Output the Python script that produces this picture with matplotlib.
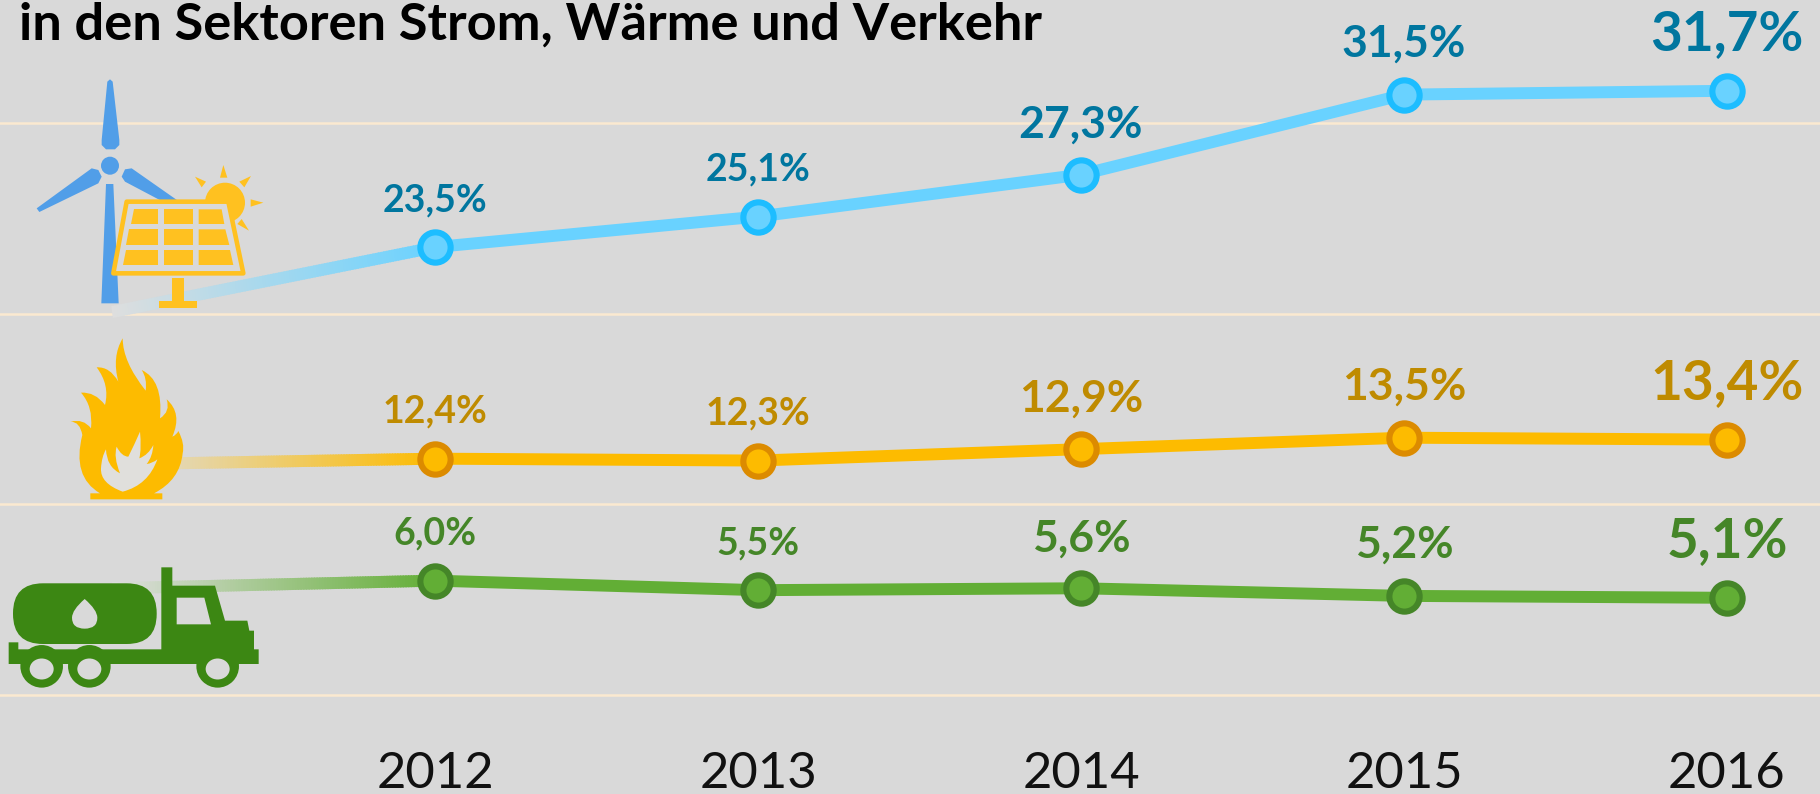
import matplotlib
matplotlib.use("Agg")
import matplotlib.pyplot as plt
from matplotlib.colors import to_rgb
import numpy as np
from matplotlib.patches import Circle, Ellipse, FancyBboxPatch, PathPatch, Polygon, Rectangle
from matplotlib.path import Path

W, H = 1820, 794
BG = "#d9d9d9"
GRID = "#fbe9d0"

# data
years = [2012, 2013, 2014, 2015, 2016]
strom = [23.5, 25.1, 27.3, 31.5, 31.7]
waerme = [12.4, 12.3, 12.9, 13.5, 13.4]
verkehr = [6.0, 5.5, 5.6, 5.2, 5.1]
strom_labels = ["23,5%", "25,1%", "27,3%", "31,5%", "31,7%"]
waerme_labels = ["12,4%", "12,3%", "12,9%", "13,5%", "13,4%"]
verkehr_labels = ["6,0%", "5,5%", "5,6%", "5,2%", "5,1%"]
start_year = 2011
start_values = [20.1, 12.1, 5.6]
grid_values = [0, 10, 20, 30]
title = "in den Sektoren Strom, Wärme und Verkehr"

label_sizes = [27, 27, 32, 32, 39.5]
label_gaps = [36, 36, 37, 38, 41]

plt.rcParams["font.family"] = ["Lato", "DejaVu Sans"]
fig = plt.figure(figsize=(W / 100, H / 100), dpi=100, facecolor=BG)
ax = fig.add_axes([0, 0, 1, 1], facecolor=BG)
ax.set_xlim(2012 - 435 / 323, 2012 + (W - 435) / 323)
ax.set_ylim((695 - H) / 19.06, 695 / 19.06)
ax.axis("off")

for g in grid_values:
    ax.axhline(g, color=GRID, lw=1.8, zorder=1)


def draw_series(vals, start, line_col, edge_col, text_col, labels):
    ax.plot(years, vals, color=line_col, lw=8.6, zorder=3, solid_capstyle="butt", solid_joinstyle="round")
    # fade from the background colour towards the first point
    c0, c1 = np.array(to_rgb("#dedede")), np.array(to_rgb(line_col))
    steps = np.linspace(0, 1, 121)
    for a, b in zip(steps[:-1], steps[1:]):
        xs = [start_year + a, start_year + b + 0.004]
        ys = [start + (vals[0] - start) * a, start + (vals[0] - start) * b]
        ax.plot(xs, ys, color=c0 + (c1 - c0) * a, lw=8.6, zorder=2, solid_capstyle="butt")
    ax.plot(years, vals, ls="none", marker="o", ms=21.8, mfc=line_col, mec=edge_col, mew=4.4, zorder=4)
    for x, v, lab, fs, gap in zip(years, vals, labels, label_sizes, label_gaps):
        ax.annotate(lab, (x, v), xytext=(0, gap), textcoords="offset pixels", ha="center", va="baseline",
                    color=text_col, fontweight="bold", fontsize=fs, zorder=5)


draw_series(strom, start_values[0], "#69d2ff", "#1dbdff", "#00769f", strom_labels)
draw_series(waerme, start_values[1], "#fdbb00", "#dc8b00", "#bf8b00", waerme_labels)
draw_series(verkehr, start_values[2], "#62ae35", "#458628", "#458628", verkehr_labels)

for y in years:
    ax.annotate(str(y), (y, 0), xytext=(0, -93), textcoords="offset pixels", ha="center", va="baseline",
                color="#111111", fontsize=36.5)

# overlay in pixel coordinates for the title and the icons
ov = fig.add_axes([0, 0, 1, 1], facecolor="none")
ov.set_xlim(0, W)
ov.set_ylim(H, 0)
ov.axis("off")
ov.text(19, 40, title, fontsize=37.7, fontweight="bold", color="black", ha="left", va="baseline")


def z(pts, oy=0):
    # icon outlines were traced at 3x zoom
    return [(x / 3, y / 3 + oy) for x, y in pts]


def curvy(start, pairs, oy):
    verts, codes = [start], [Path.MOVETO]
    for ctrl, end in pairs:
        verts += [ctrl, end]
        codes += [Path.CURVE3, Path.CURVE3]
    return Path(z(verts, oy), codes)


# wind turbine
BLUE = "#519ee8"
for blade in ([(318, 552), (340, 552), (356, 910), (304, 910)],
              [(322, 245), (330, 238), (338, 245), (358, 420), (358, 435), (345, 448), (318, 448), (305, 435), (305, 420)],
              [(110, 625), (118, 636), (295, 550), (305, 530), (295, 510), (275, 505)],
              [(365, 530), (375, 508), (395, 505), (562, 622), (555, 640), (375, 545)]):
    ov.add_patch(Polygon(z(blade), fc=BLUE, ec="none", zorder=3))
ov.add_patch(Circle((110, 165.7), 9, fc=BLUE, ec="none", zorder=3))

# sun and solar panel
SUN = "#ffc120"
ov.add_patch(Circle((225, 202.7), 20, fc=SUN, ec="none", zorder=3))
for tri in ([(670, 495), (682, 533), (660, 533)], [(753, 528), (733, 562), (718, 545)],
            [(790, 608), (752, 620), (752, 598)], [(747, 692), (712, 672), (725, 657)],
            [(585, 530), (618, 545), (605, 562)]):
    ov.add_patch(Polygon(z(tri), fc=SUN, ec="none", zorder=3))
ov.add_patch(Polygon(z([(380, 605), (685, 605), (730, 820), (340, 820)]), fc=BG, ec=SUN, lw=3.3, joinstyle="round", zorder=4))
cells = [[(403, 628), (475, 628), (475, 672), (392, 672)], [(493, 628), (578, 628), (578, 672), (493, 672)],
         [(596, 628), (665, 628), (673, 672), (596, 672)],
         [(388, 688), (475, 688), (475, 735), (378, 735)], [(493, 688), (578, 688), (578, 735), (493, 735)],
         [(596, 688), (676, 688), (688, 735), (596, 735)],
         [(378, 750), (475, 750), (475, 795), (368, 795)], [(493, 750), (578, 750), (578, 795), (493, 795)],
         [(596, 750), (690, 750), (700, 795), (596, 795)]]
for cell in cells:
    ov.add_patch(Polygon(z(cell), fc=SUN, ec="none", zorder=5))
ov.add_patch(Rectangle((172.3, 278), 11.7, 24, fc=SUN, ec="none", zorder=4))
ov.add_patch(Rectangle((159.3, 300.7), 37.7, 7.7, fc=SUN, ec="none", zorder=4))

# flame
FLAME = "#fdbb00"
flame = curvy((368, 55), [((368, 125), (437, 212)), ((442, 175), (425, 150)), ((490, 180), (480, 295)),
                          ((512, 275), (500, 238)), ((548, 280), (517, 350)), ((530, 345), (535, 333)),
                          ((555, 370), (548, 400)), ((540, 480), (462, 520)), ((475, 520), (487, 520)),
                          ((487, 530), (487, 538)), ((380, 538), (271, 538)), ((271, 530), (271, 520)),
                          ((285, 520), (300, 520)), ((215, 470), (247, 345)), ((240, 305), (212, 305)),
                          ((250, 295), (273, 325)), ((280, 260), (243, 218)), ((285, 215), (315, 255)),
                          ((330, 195), (290, 142)), ((330, 140), (355, 185)), ((335, 110), (368, 55))], 320)
ov.add_patch(PathPatch(flame, fc=FLAME, ec="none", zorder=3))
inner = curvy((368, 515), [((300, 490), (303, 445)), ((305, 410), (318, 388)), ((320, 440), (360, 460)),
                           ((340, 410), (350, 380)), ((365, 410), (385, 410)), ((405, 370), (420, 335)),
                           ((425, 385), (418, 415)), ((445, 405), (460, 375)), ((458, 410), (440, 432)),
                           ((458, 430), (472, 418)), ((445, 495), (368, 515))], 320)
ov.add_patch(PathPatch(inner, fc="#e0dfdc", ec="none", zorder=4))

# tanker truck
TRUCK = "#3c8713"
ov.add_patch(FancyBboxPatch((13, 583.3), 143.7, 60.7, boxstyle="round,pad=0,rounding_size=30", fc=TRUCK, ec="none", zorder=3))
ov.add_patch(Polygon(z([(26, 967), (55, 967), (55, 988), (484, 988), (484, 742), (517, 742), (517, 797), (645, 797),
                        (675, 902), (742, 902), (748, 932), (762, 932), (762, 988), (776, 988), (776, 1032), (26, 1032)], 320),
                     fc=TRUCK, ec="none", zorder=3))
ov.add_patch(Polygon(z([(530, 833), (613, 833), (633, 913), (530, 913)], 320), fc=BG, ec="none", zorder=4))
for cx in [125, 268, 653]:
    ov.add_patch(Circle((cx / 3, 320 + 1039 / 3), 21.3, fc=TRUCK, ec="none", zorder=3))
    ov.add_patch(Ellipse((cx / 3, 320 + 1047 / 3), 24, 21, fc=BG, ec="none", zorder=4))
drop = curvy((254, 837), [((292, 870), (292, 893)), ((292, 926), (254, 926)), ((216, 926), (216, 893)), ((216, 870), (254, 837))], 320)
ov.add_patch(PathPatch(drop, fc=BG, ec="none", zorder=4))

fig.savefig("out.png", dpi=100, facecolor=BG)
